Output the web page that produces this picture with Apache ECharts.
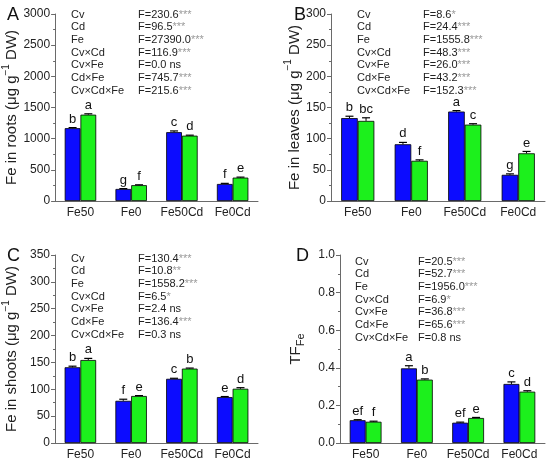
<!DOCTYPE html>
<html>
<head>
<meta charset="utf-8">
<title>Fe panels</title>
<style>
html, body { margin: 0; width: 100%; height: 100%; background: #fff; }
#box { width: 550px; height: 463px; }
</style>
</head>
<body>
<div id="box"></div>
<script src="https://cdn.jsdelivr.net/npm/echarts@6/dist/echarts.min.js"></script>
<script>
var categories = ['Fe50', 'Fe0', 'Fe50Cd', 'Fe0Cd'];

// A: Fe in roots
var rootsBlue = [1168, 193, 1104, 273];
var rootsGreen = [1385, 254, 1048, 375];
var rootsBlueErr = [10, 6, 20, 10];
var rootsGreenErr = [14, 6, 8, 8];
var rootsBlueLet = ['b', 'g', 'c', 'f'];
var rootsGreenLet = ['a', 'f', 'd', 'e'];

// B: Fe in leaves
var leavesBlue = [133, 91, 143.5, 42];
var leavesGreen = [128.5, 64.5, 122.5, 76.5];
var leavesBlueErr = [3, 3, 1.5, 1.5];
var leavesGreenErr = [5, 1.5, 1.5, 3];
var leavesBlueLet = ['b', 'd', 'a', 'g'];
var leavesGreenLet = ['bc', 'f', 'c', 'e'];

// C: Fe in shoots
var shootsBlue = [141, 78.5, 119.5, 85.5];
var shootsGreen = [154.5, 87.5, 138.5, 101];
var shootsBlueErr = [2, 3, 1, 1];
var shootsGreenErr = [3, 0.8, 1, 2];
var shootsBlueLet = ['b', 'f', 'c', 'e'];
var shootsGreenLet = ['a', 'e', 'b', 'd'];

// D: TF Fe
var tfBlue = [0.121, 0.397, 0.108, 0.314];
var tfGreen = [0.113, 0.337, 0.133, 0.273];
var tfBlueErr = [0.003, 0.014, 0.003, 0.011];
var tfGreenErr = [0.003, 0.004, 0.003, 0.005];
var tfBlueLet = ['ef', 'a', 'ef', 'c'];
var tfGreenLet = ['f', 'b', 'e', 'd'];

var factorNames = ['Cv', 'Cd', 'Fe', 'Cv\u00d7Cd', 'Cv\u00d7Fe', 'Cd\u00d7Fe', 'Cv\u00d7Cd\u00d7Fe'];
var rootsF = ['230.6', '96.5', '27390.0', '116.9', '0.0', '745.7', '215.6'];
var rootsSig = ['***', '***', '***', '***', 'ns', '***', '***'];
var leavesF = ['8.6', '24.4', '1555.8', '48.3', '26.0', '43.2', '152.3'];
var leavesSig = ['*', '***', '***', '***', '***', '***', '***'];
var shootsF = ['130.4', '10.8', '1558.2', '6.5', '2.4', '136.4', '0.3'];
var shootsSig = ['***', '**', '***', '*', 'ns', '***', 'ns'];
var tfF = ['20.5', '52.7', '1956.0', '6.9', '36.8', '65.6', '0.8'];
var tfSig = ['***', '***', '***', '*', '***', '***', 'ns'];

var BLUE = '#0c0cff';
var GREEN = '#1cf01c';
var AXIS = '#6a6a6a';
var FONT = 'Liberation Sans, Arial, sans-serif';

var myChart = echarts.init(document.getElementById('box'));

var grids = [
	{ left: 50, top: 14, width: 208, height: 187 },
	{ left: 331, top: 14, width: 214, height: 187 },
	{ left: 51, top: 255, width: 207, height: 188 },
	{ left: 340, top: 255, width: 205, height: 188 }
];

var panels = [
	{ max: 3000, interval: 500, gap: 31, name: '{t|Fe in roots (\u03bcg g}{sup|\u22121}{t| DW)}',
	  blue: rootsBlue, green: rootsGreen, be: rootsBlueErr, ge: rootsGreenErr, bl: rootsBlueLet, gl: rootsGreenLet,
	  F: rootsF, sig: rootsSig },
	{ max: 300, interval: 50, gap: 17, name: '{t|Fe in leaves (\u03bcg g}{sup|\u22121}{t| DW)}',
	  blue: leavesBlue, green: leavesGreen, be: leavesBlueErr, ge: leavesGreenErr, bl: leavesBlueLet, gl: leavesGreenLet,
	  F: leavesF, sig: leavesSig },
	{ max: 350, interval: 50, gap: 32, name: '{t|Fe in shoots (\u03bcg g}{sup|\u22121}{t| DW)}',
	  blue: shootsBlue, green: shootsGreen, be: shootsBlueErr, ge: shootsGreenErr, bl: shootsBlueLet, gl: shootsGreenLet,
	  F: shootsF, sig: shootsSig },
	{ max: 1.0, interval: 0.2, gap: 34, name: '{t|TF}{sub|Fe}',
	  blue: tfBlue, green: tfGreen, be: tfBlueErr, ge: tfGreenErr, bl: tfBlueLet, gl: tfGreenLet,
	  F: tfF, sig: tfSig }
];

// text positions of the statistics block per panel
var statPos = [
	{ x1: 71, x2: 138, y: 15 },
	{ x1: 357, x2: 423, y: 15 },
	{ x1: 71, x2: 138, y: 259 },
	{ x1: 355, x2: 418, y: 262 }
];
var panelLetters = [
	{ t: 'A', x: 7, y: 15 },
	{ t: 'B', x: 294, y: 15 },
	{ t: 'C', x: 7, y: 256 },
	{ t: 'D', x: 296, y: 256 }
];

var xAxes = [], yAxes = [], series = [], graphics = [];

panels.forEach(function (p, i) {
	xAxes.push({
		type: 'category', gridIndex: i, data: categories,
		axisLine: { lineStyle: { color: AXIS, width: 1 } },
		axisTick: { show: false },
		axisLabel: { color: '#222', fontSize: 12, fontFamily: FONT, margin: 6, interval: 0 }
	});
	yAxes.push({
		type: 'value', gridIndex: i, min: 0, max: p.max, interval: p.interval,
		name: p.name, nameLocation: 'middle', nameGap: p.gap,
		nameTextStyle: {
			fontFamily: FONT,
			rich: {
				t: { fontSize: 15, color: '#222', fontFamily: FONT },
				sup: { fontSize: 10, color: '#222', fontFamily: FONT, padding: [0, 0, 12, 0] },
				sub: { fontSize: 11, color: '#222', fontFamily: FONT, padding: [10, 0, 0, 0] }
			}
		},
		axisLine: { show: true, lineStyle: { color: AXIS, width: 1 } },
		axisTick: { show: true, length: 4, lineStyle: { color: AXIS } },
		minorTick: { show: true, splitNumber: 2, length: 2, lineStyle: { color: AXIS } },
		splitLine: { show: false },
		axisLabel: {
			color: '#222', fontSize: 12, fontFamily: FONT, margin: 5,
			formatter: function (v) { return p.max === 1.0 ? v.toFixed(1) : String(v); }
		}
	});
	[['blue', BLUE], ['green', GREEN]].forEach(function (s) {
		series.push({
			type: 'bar', xAxisIndex: i, yAxisIndex: i, data: p[s[0]],
			barWidth: '31%', barGap: '0%',
			itemStyle: { color: s[1], borderColor: '#000', borderWidth: 0.8 },
			silent: true
		});
	});
	// error bars and letters
	[['blue', 'be', 'bl', -1], ['green', 'ge', 'gl', 1]].forEach(function (s) {
		var vals = p[s[0]], errs = p[s[1]], lets = p[s[2]], side = s[3];
		series.push({
			type: 'custom', xAxisIndex: i, yAxisIndex: i,
			data: vals.map(function (v, k) { return [k, v, errs[k]]; }),
			renderItem: function (params, api) {
				var k = api.value(0);
				var band = api.size([1, 0])[0];
				var cx = api.coord([k, 0])[0] + side * band * 0.155;
				var top = api.coord([k, api.value(1) + api.value(2)])[1];
				var mid = api.coord([k, api.value(1)])[1];
				return {
					type: 'group',
					children: [
						{ type: 'line', shape: { x1: cx, y1: mid, x2: cx, y2: top }, style: { stroke: '#000', lineWidth: 1 } },
						{ type: 'line', shape: { x1: cx - 4, y1: top, x2: cx + 4, y2: top }, style: { stroke: '#000', lineWidth: 1.2 } },
						{ type: 'text', x: cx, y: top - 2, style: { text: lets[params.dataIndex], fill: '#111', fontSize: 13, fontFamily: FONT, align: 'center', verticalAlign: 'bottom' } }
					]
				};
			},
			silent: true, z: 5
		});
	});
	// statistics block
	var sp = statPos[i];
	factorNames.forEach(function (n, r) {
		var y = sp.y + r * 12.7;
		graphics.push({ type: 'text', left: sp.x1, top: y - 6, style: { text: n, fill: '#222', fontSize: 11, fontFamily: FONT } });
		var sig = p.sig[r];
		graphics.push({
			type: 'text', left: sp.x2, top: y - 6,
			style: {
				text: sig === 'ns' ? '{f|F=' + p.F[r] + ' ns}' : '{f|F=' + p.F[r] + '}{s|' + sig + '}',
				rich: {
					f: { fill: '#222', fontSize: 11, fontFamily: FONT },
					s: { fill: '#9a9a9a', fontSize: 11, fontFamily: FONT }
				}
			}
		});
	});
	var pl = panelLetters[i];
	graphics.push({ type: 'text', left: pl.x, top: pl.y - 9, style: { text: pl.t, fill: '#111', fontSize: 18, fontFamily: FONT } });
});

var option = {
	backgroundColor: '#fff',
	animation: false,
	grid: grids,
	xAxis: xAxes,
	yAxis: yAxes,
	series: series,
	graphic: graphics
};

myChart.setOption(option);
</script>
</body>
</html>
